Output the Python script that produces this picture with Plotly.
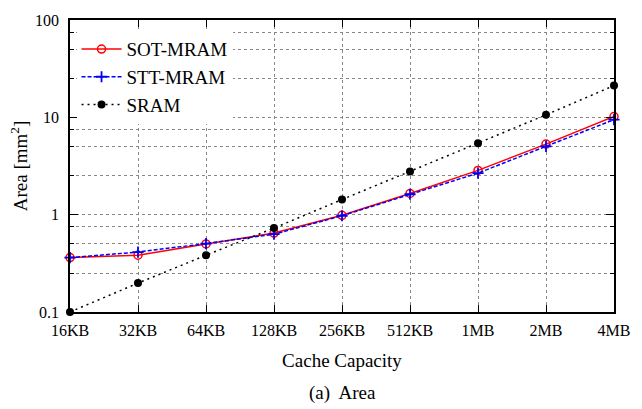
import plotly.graph_objects as go

capacity = ["16KB", "32KB", "64KB", "128KB", "256KB", "512KB", "1MB", "2MB", "4MB"]
sot_mram = [0.362, 0.383, 0.50, 0.647, 0.985, 1.65, 2.85, 5.31, 10.2]
stt_mram = [0.362, 0.413, 0.505, 0.630, 0.975, 1.62, 2.67, 5.04, 9.46]
sram = [0.10, 0.198, 0.383, 0.728, 1.43, 2.78, 5.43, 10.6, 21.2]

y_major = [0.1, 1, 10, 100]
y_major_text = ["0.1", "1", "10", "100"]
y_minor = [0.25, 0.5, 0.75, 2.5, 5, 7.5, 25, 50, 75]

xs = list(range(len(capacity)))
font = "Liberation Serif"

fig = go.Figure()
fig.add_trace(go.Scatter(x=xs, y=sot_mram, name="SOT-MRAM", mode="lines+markers",
                         line=dict(color="#ff0000", width=1.5),
                         marker=dict(symbol="circle-open", size=8, color="#ff0000",
                                     line=dict(width=1.5, color="#ff0000")),
                         cliponaxis=False))
fig.add_trace(go.Scatter(x=xs, y=stt_mram, name="STT-MRAM", mode="lines+markers",
                         line=dict(color="#0000ff", width=1.5, dash="4px,2px"),
                         marker=dict(symbol="cross-thin", size=8, color="#0000ff",
                                     line=dict(width=1.8, color="#0000ff")),
                         cliponaxis=False))
fig.add_trace(go.Scatter(x=xs, y=sram, name="SRAM", mode="lines+markers",
                         line=dict(color="#000000", width=1.5, dash="2px,4px"),
                         marker=dict(symbol="circle", size=8, color="#000000"),
                         cliponaxis=False))

fig.update_layout(
    width=642, height=409,
    margin=dict(l=70, r=16, t=15, b=97),
    plot_bgcolor="white", paper_bgcolor="white",
    font=dict(family=font, size=16, color="black"),
    showlegend=True,
    legend=dict(x=0.012, y=0.965, xanchor="left", yanchor="top",
                bgcolor="white", borderwidth=0,
                font=dict(family=font, size=19, color="black"),
                tracegroupgap=0, itemwidth=40),
    xaxis=dict(
        range=[0, 8], tickmode="array", tickvals=xs, ticktext=capacity,
        showline=True, linecolor="black", linewidth=1.5, mirror="ticks",
        ticks="inside", ticklen=7, tickcolor="black",
        showgrid=True, gridcolor="#888888", griddash="dot", gridwidth=1,
        zeroline=False, ticklabeloverflow="allow", ticklabelstandoff=3,
        automargin=True,
        tickfont=dict(family=font, size=16),
        title=dict(text="Cache Capacity", font=dict(family=font, size=19), standoff=16),
    ),
    yaxis=dict(
        type="log", range=[-1, 2], tickmode="array", tickvals=y_major, ticktext=y_major_text,
        showline=True, linecolor="black", linewidth=1.5, mirror="ticks",
        ticks="inside", ticklen=8, tickcolor="black",
        showgrid=True, gridcolor="#888888", griddash="dot", gridwidth=1,
        zeroline=False, ticklabelstandoff=6, automargin=True,
        tickfont=dict(family=font, size=16),
        minor=dict(tickmode="array", tickvals=y_minor, ticks="inside", ticklen=4,
                   tickcolor="black", showgrid=True, gridcolor="#888888",
                   griddash="dot", gridwidth=1),
        title=dict(text="Area [mm<sup>2</sup>]", font=dict(family=font, size=19), standoff=2),
    ),
    annotations=[dict(text="(a)  Area", xref="paper", yref="paper", x=0.5, y=-0.279,
                      xanchor="center", yanchor="middle", showarrow=False,
                      font=dict(family=font, size=19, color="black"))],
)

fig.write_html("out.html")
